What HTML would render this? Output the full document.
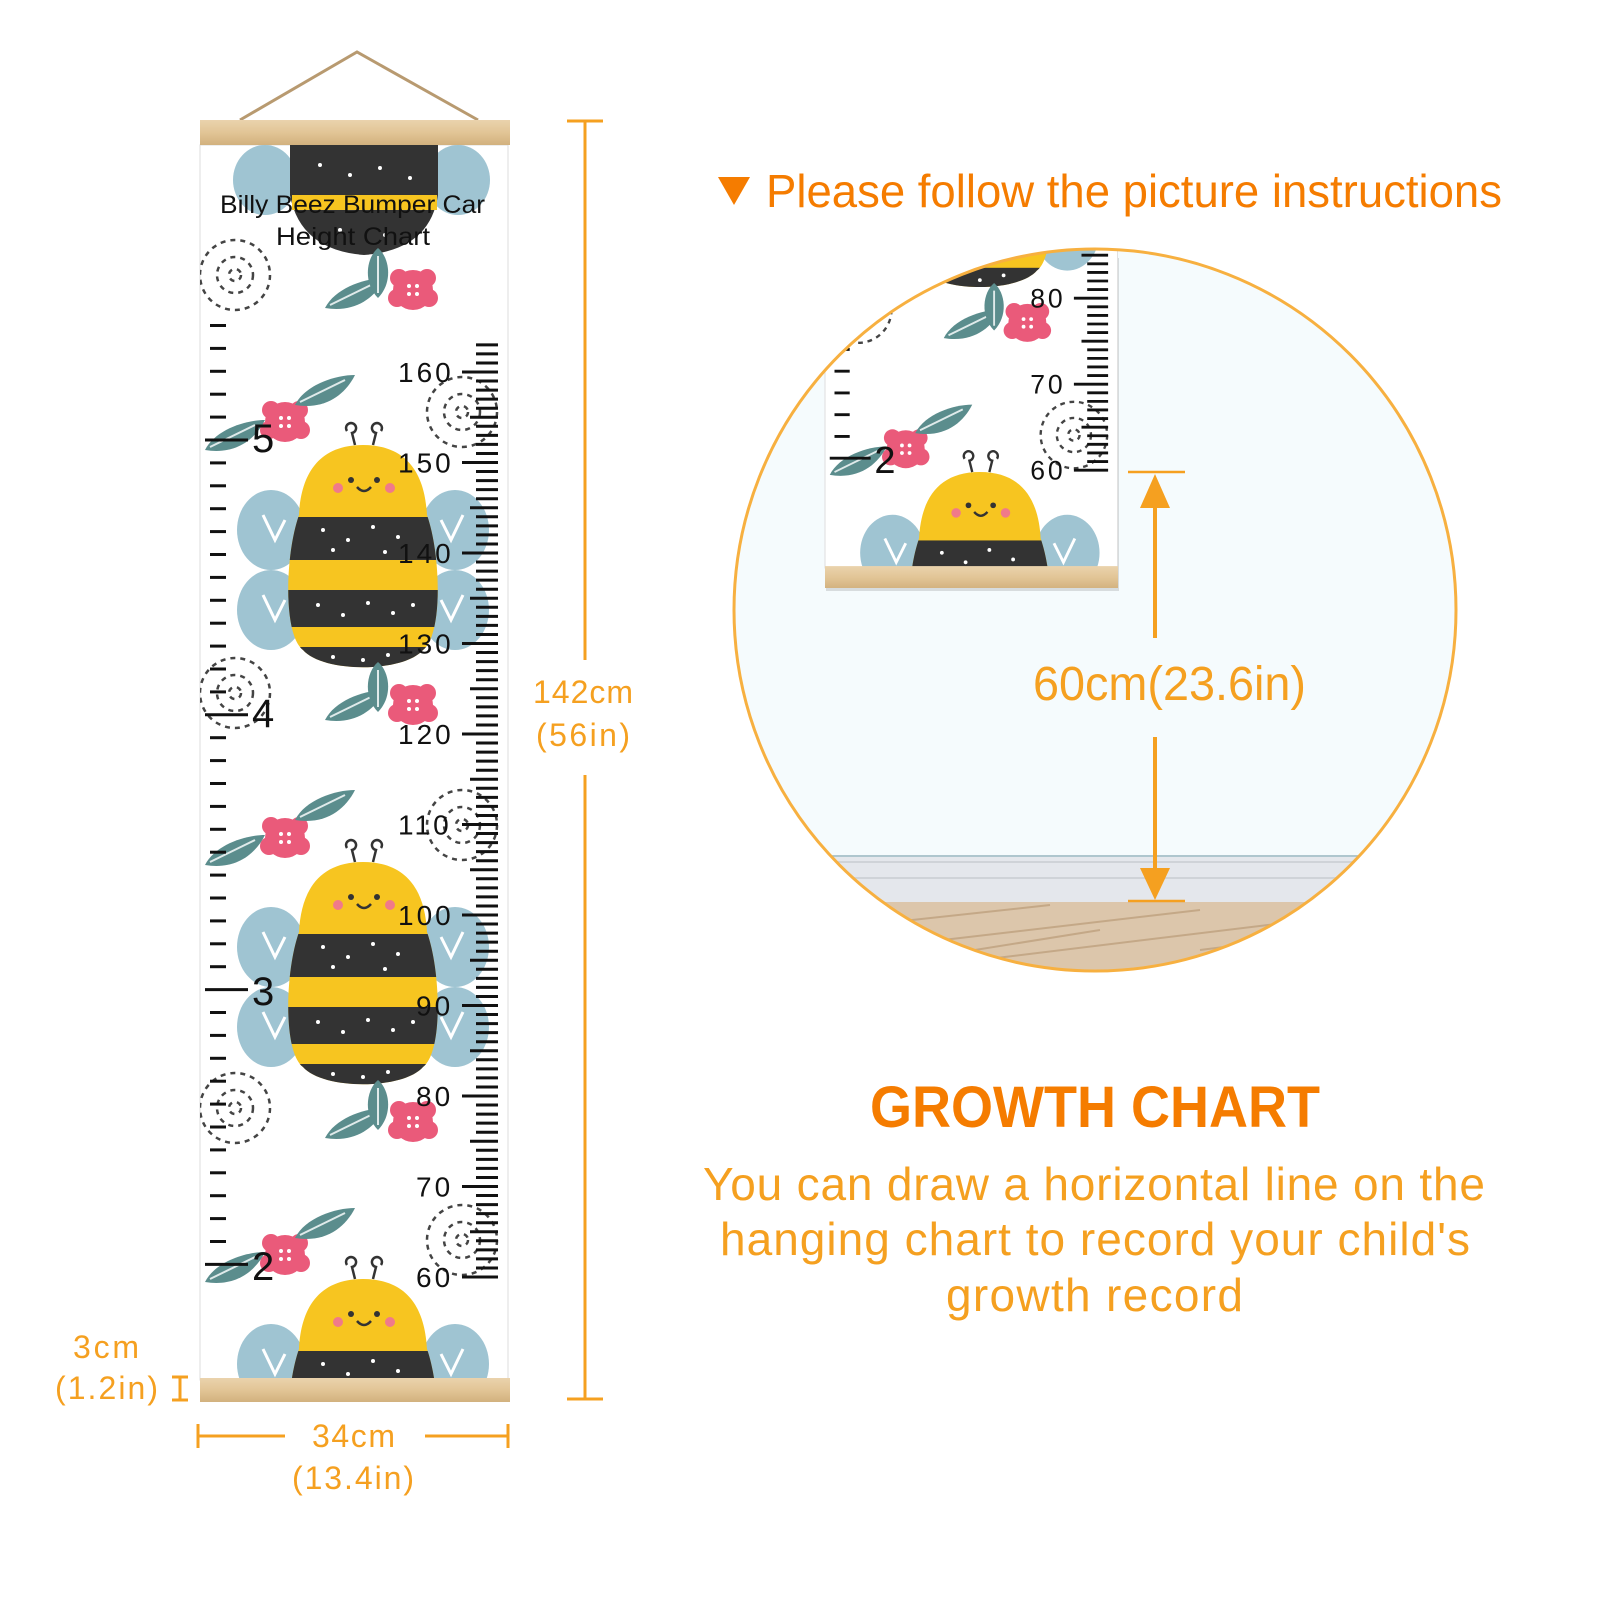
<!DOCTYPE html>
<html><head><meta charset="utf-8"><style>
html,body{margin:0;padding:0;background:#fff;}
svg{display:block}
text{font-family:"Liberation Sans",sans-serif}
</style></head><body>
<svg id="s" width="1600" height="1600" viewBox="0 0 1600 1600" xmlns="http://www.w3.org/2000/svg">
<defs>
<linearGradient id="wood" x1="0" y1="0" x2="0" y2="1">
<stop offset="0" stop-color="#ead3ad"/><stop offset=".5" stop-color="#e2c596"/><stop offset="1" stop-color="#d2b17e"/></linearGradient>
<g id="bee">
 <ellipse cx="-92" cy="85" rx="34" ry="40" fill="#9fc4d2"/>
 <ellipse cx="-92" cy="165" rx="34" ry="40" fill="#9fc4d2"/>
 <ellipse cx="92" cy="85" rx="34" ry="40" fill="#9fc4d2"/>
 <ellipse cx="92" cy="165" rx="34" ry="40" fill="#9fc4d2"/>
 <path d="M-100 70 l12 25 l10 -20 M-100 150 l12 25 l10 -20 M100 70 l-12 25 l-10 -20 M100 150 l-12 25 l-10 -20" stroke="#fff" stroke-width="3" fill="none"/>
 <clipPath id="bc"><path d="M0 0 C45 0 62 30 64 70 C78 110 80 190 60 205 C40 228 -40 228 -60 205 C-80 190 -78 110 -64 70 C-62 30 -45 0 0 0Z"/></clipPath>
 <g clip-path="url(#bc)">
  <rect x="-90" y="-5" width="180" height="240" fill="#f7c520"/>
  <rect x="-90" y="72" width="180" height="43" fill="#333"/>
  <rect x="-90" y="145" width="180" height="37" fill="#333"/>
  <rect x="-90" y="202" width="180" height="40" fill="#333"/>
 </g>
 <g fill="#fff"><circle cx="-40" cy="85" r="2"/><circle cx="-15" cy="95" r="2"/><circle cx="10" cy="82" r="2"/><circle cx="35" cy="92" r="2"/><circle cx="-30" cy="105" r="2"/><circle cx="22" cy="107" r="2"/><circle cx="-45" cy="160" r="2"/><circle cx="-20" cy="170" r="2"/><circle cx="5" cy="158" r="2"/><circle cx="30" cy="168" r="2"/><circle cx="50" cy="160" r="2"/><circle cx="-30" cy="212" r="2"/><circle cx="0" cy="215" r="2"/><circle cx="25" cy="210" r="2"/></g>
 <circle cx="-12" cy="35" r="3" fill="#333"/><circle cx="14" cy="35" r="3" fill="#333"/>
 <circle cx="-25" cy="43" r="5" fill="#f07a8a"/><circle cx="27" cy="43" r="5" fill="#f07a8a"/>
 <path d="M-6 42 q7 8 14 0" stroke="#333" stroke-width="2.5" fill="none"/>
 <path d="M-8 0 l-3 -12 a5 5 0 1 0 -5 -2 M10 0 l3 -12 a5 5 0 1 1 5 -2" stroke="#333" stroke-width="2.5" fill="none"/>
</g>
<g id="flower"><circle r="20" fill="#ea5a7a"/><circle cx="-14" cy="-12" r="9" fill="#ea5a7a"/><circle cx="14" cy="-12" r="9" fill="#ea5a7a"/><circle cx="-16" cy="8" r="9" fill="#ea5a7a"/><circle cx="16" cy="8" r="9" fill="#ea5a7a"/><g fill="#fff"><circle cx="-4" cy="-4" r="2"/><circle cx="4" cy="-4" r="2"/><circle cx="-4" cy="4" r="2"/><circle cx="4" cy="4" r="2"/></g></g>
<g id="leaf"><path d="M0 0 C10 -20 40 -30 60 -30 C50 -10 30 5 0 0Z" fill="#5b8d8d"/><path d="M5 -3 L50 -25" stroke="#dfeaea" stroke-width="2"/></g>
<g id="leaf2"><path d="M0 0 C-15 -15 -12 -40 0 -50 C12 -40 15 -15 0 0Z" fill="#5b8d8d"/><path d="M0 -5 L0 -42" stroke="#dfeaea" stroke-width="2"/></g>
<g id="swirl" fill="none" stroke="#444" stroke-width="2.5" stroke-dasharray="5 5"><circle r="35"/><circle r="18"/><circle r="6"/></g>
</defs>

<path d="M240 120 L357 52 L478 120" stroke="#b89a70" stroke-width="3" fill="none"/>

<g id="chart">
 <rect x="200" y="145" width="308" height="1235" fill="#fff" stroke="#ddd"/>
 <clipPath id="cc"><rect x="200" y="145" width="308" height="1235"/></clipPath>
 <g clip-path="url(#cc)">
  <ellipse cx="265" cy="180" rx="32" ry="35" fill="#9fc4d2"/><ellipse cx="458" cy="180" rx="32" ry="35" fill="#9fc4d2"/>
  <path d="M290 145 H438 V195 Q430 250 364 255 Q300 250 290 195Z" fill="#333"/>
  <rect x="292" y="195" width="145" height="15" fill="#f7c520"/>
  <g fill="#fff"><circle cx="320" cy="165" r="2"/><circle cx="350" cy="175" r="2"/><circle cx="380" cy="168" r="2"/><circle cx="410" cy="178" r="2"/><circle cx="340" cy="230" r="2"/><circle cx="385" cy="235" r="2"/></g>
  <use href="#swirl" x="235" y="275"/><use href="#swirl" x="235" y="693"/><use href="#swirl" x="235" y="1108"/>
  <use href="#swirl" x="462" y="412"/><use href="#swirl" x="462" y="825"/><use href="#swirl" x="462" y="1240"/>
  <use href="#bee" x="363" y="445"/><use href="#bee" x="363" y="862"/><use href="#bee" x="363" y="1279"/>
  <use href="#flower" x="413" y="290"/><use href="#flower" x="285" y="422"/><use href="#flower" x="413" y="705"/>
  <use href="#flower" x="285" y="838"/><use href="#flower" x="413" y="1122"/><use href="#flower" x="285" y="1255"/>
  <use href="#leaf" x="325" y="308"/><use href="#leaf2" x="378" y="298"/><use href="#leaf" x="295" y="405"/><use href="#leaf" x="205" y="450"/><use href="#leaf" x="325" y="720"/><use href="#leaf2" x="378" y="712"/><use href="#leaf" x="295" y="820"/><use href="#leaf" x="205" y="865"/><use href="#leaf" x="325" y="1138"/><use href="#leaf2" x="378" y="1130"/><use href="#leaf" x="295" y="1238"/><use href="#leaf" x="205" y="1282"/>
  <g id="ticks" stroke="#111" stroke-width="3"></g>
  <g id="nums" fill="#111" font-size="28" letter-spacing="3"></g>
 </g>
 <text x="220" y="213" font-size="25" textLength="265" lengthAdjust="spacingAndGlyphs" fill="#111">Billy Beez Bumper Car</text>
 <text x="276" y="245" font-size="25" textLength="154" lengthAdjust="spacingAndGlyphs" fill="#111">Height Chart</text>
 <rect x="200" y="1378" width="310" height="24" fill="url(#wood)"/>
</g>
<rect x="200" y="120" width="310" height="25" fill="url(#wood)"/>

<g stroke="#f5a020" stroke-width="3" fill="none">
 <path d="M585 121 V660 M585 775 V1399 M567 121 H603 M567 1399 H603"/>
 <path d="M198 1436 H285 M425 1436 H508 M198 1424 V1448 M508 1424 V1448"/>
 <path d="M180 1377 V1400 M172 1377 H188 M172 1400 H188"/>
</g>
<g fill="#f5a020" font-size="32" lengthAdjust="spacingAndGlyphs">
 <text x="533" y="703" textLength="100">142cm</text><text x="536" y="746" textLength="94">(56in)</text>
 <text x="312" y="1447" textLength="83">34cm</text><text x="292" y="1489" textLength="122">(13.4in)</text>
 <text x="73" y="1358" textLength="66">3cm</text><text x="55" y="1399" textLength="103">(1.2in)</text>
</g>

<path d="M718 177 H750 L734 205Z" fill="#f57c00"/>
<text x="766" y="207" font-size="46" fill="#f57c00" textLength="736" lengthAdjust="spacingAndGlyphs">Please follow the picture instructions</text>

<clipPath id="circ"><circle cx="1095" cy="610" r="361"/></clipPath>
<g clip-path="url(#circ)">
 <rect x="700" y="240" width="800" height="760" fill="#f5fbfd"/>
 <rect x="700" y="855" width="800" height="47" fill="#e4e7ec"/>
 <path d="M700 856 H1500" stroke="#9bbcc4" stroke-width="1.5"/>
 <path d="M700 862 H1500 M700 878 H1500" stroke="#cfd3d8" stroke-width="2"/>
 <rect x="700" y="902" width="800" height="100" fill="#dcc6ab"/>
 <path d="M820 930 L1050 905 M900 945 L1200 910 M980 960 L1350 915 M850 970 L1100 930 M1200 950 L1400 925" stroke="#c4a887" stroke-width="2"/>
 <rect x="826" y="258" width="293" height="333" fill="#000" opacity=".12"/>
 <clipPath id="ic"><rect x="823" y="250" width="295" height="338"/></clipPath>
 <g clip-path="url(#ic)"><use href="#chart" transform="translate(635,-743) scale(.95)"/></g>
</g>
<circle cx="1095" cy="610" r="361" fill="none" stroke="#f7b040" stroke-width="3"/>
<g stroke="#f5a020" stroke-width="3" fill="#f5a020">
 <path d="M1128 472 H1185 M1128 901 H1185" stroke-width="2.5"/>
 <path d="M1155 500 V638 M1155 737 V870" stroke-width="4"/>
 <path d="M1140 508 L1155 474 L1170 508Z M1140 868 L1155 900 L1170 868Z" stroke="none"/>
</g>
<text x="1033" y="700" font-size="48" fill="#f5a020" textLength="273" lengthAdjust="spacingAndGlyphs">60cm(23.6in)</text>

<text x="870" y="1127" font-size="58" font-weight="bold" fill="#f57c00" textLength="450" lengthAdjust="spacingAndGlyphs">GROWTH CHART</text>
<g font-size="46" fill="#f5a020" lengthAdjust="spacingAndGlyphs">
<text x="703" y="1200" textLength="782">You can draw a horizontal line on the</text>
<text x="720" y="1255" textLength="750">hanging chart to record your child's</text>
<text x="946" y="1311" textLength="297">growth record</text>
</g>
</svg>
<script>
var NS="http://www.w3.org/2000/svg",t=document.getElementById("ticks"),n=document.getElementById("nums");
function L(x1,y1,x2,y2){var l=document.createElementNS(NS,"line");l.setAttribute("x1",x1);l.setAttribute("y1",y1);l.setAttribute("x2",x2);l.setAttribute("y2",y2);t.appendChild(l);}
function T(x,y,s,fs){var e=document.createElementNS(NS,"text");e.setAttribute("x",x);e.setAttribute("y",y);if(fs)e.setAttribute("font-size",fs);e.textContent=s;n.appendChild(e);}
for(var v=60;v<=163;v++){var y=1277-(v-60)*9.05;var x1=v%10==0?462:(v%5==0?470:476);L(x1,y,498,y);if(v%10==0)T(v>=100?398:416,y+10,String(v));}
for(var k=-5;k<=36;k++){var y=440+22.9*k;if(k%12==0){L(205,y,248,y);}else L(210,y,226,y);}
T(252,452,"5",40);T(252,727,"4",40);T(252,1005,"3",40);T(252,1280,"2",40);
</script>
</body></html>
